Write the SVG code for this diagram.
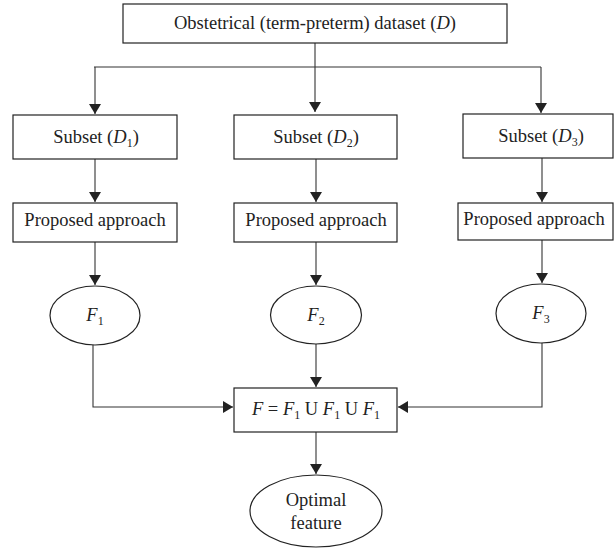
<svg xmlns="http://www.w3.org/2000/svg" width="614" height="548" viewBox="0 0 614 548">
<style>
.box{fill:#fff;stroke:#222;stroke-width:1.2}
.t{font-family:"Liberation Serif","Times New Roman",serif;font-size:18.5px;fill:#222;text-anchor:middle}
.i{font-style:italic}
.s{font-size:12px}
.c{fill:none;stroke:#333;stroke-width:1.1}
</style>
<defs>
<marker id="a" viewBox="0 0 10 12" refX="10" refY="6" markerWidth="10" markerHeight="12" markerUnits="userSpaceOnUse" orient="auto">
<path d="M0,0 L10,6 L0,12 Z" fill="#222"/>
</marker>
</defs>
<rect width="614" height="548" fill="#fff"/>
<g id="connectors">
<path class="c" d="M315,43 V112" marker-end="url(#a)"/>
<path class="c" d="M94,67 H541"/>
<path class="c" d="M95,67 V114" marker-end="url(#a)"/>
<path class="c" d="M541,67 V113" marker-end="url(#a)"/>
<path class="c" d="M95,159 V202" marker-end="url(#a)"/>
<path class="c" d="M316,159 V202" marker-end="url(#a)"/>
<path class="c" d="M542,158 V202" marker-end="url(#a)"/>
<path class="c" d="M95,242 V285" marker-end="url(#a)"/>
<path class="c" d="M316,242 V285" marker-end="url(#a)"/>
<path class="c" d="M542,240 V283" marker-end="url(#a)"/>
<path class="c" d="M93,345 V407 H233" marker-end="url(#a)"/>
<path class="c" d="M542,343 V407 H398" marker-end="url(#a)"/>
<path class="c" d="M316,344 V387" marker-end="url(#a)"/>
<path class="c" d="M316,432 V474" marker-end="url(#a)"/>
</g>
<g id="dataset">
<rect class="box" x="123" y="4" width="384" height="39"/>
<text class="t" x="315" y="29">Obstetrical (term-preterm) dataset (<tspan class="i">D</tspan>)</text>
</g>
<g id="subset1">
<rect class="box" x="13" y="115" width="164" height="44"/>
<text class="t" x="96" y="143">Subset (<tspan class="i">D</tspan><tspan class="s" dy="4">1</tspan><tspan dy="-4">)</tspan></text>
</g>
<g id="subset2">
<rect class="box" x="234" y="115" width="163" height="44"/>
<text class="t" x="316" y="143">Subset (<tspan class="i">D</tspan><tspan class="s" dy="4">2</tspan><tspan dy="-4">)</tspan></text>
</g>
<g id="subset3">
<rect class="box" x="463" y="114" width="150" height="44"/>
<text class="t" x="541" y="142">Subset (<tspan class="i">D</tspan><tspan class="s" dy="4">3</tspan><tspan dy="-4">)</tspan></text>
</g>
<g id="approach1">
<rect class="box" x="13" y="203" width="164" height="39"/>
<text class="t" x="95" y="226">Proposed approach</text>
</g>
<g id="approach2">
<rect class="box" x="234" y="203" width="163" height="39"/>
<text class="t" x="316" y="226">Proposed approach</text>
</g>
<g id="approach3">
<rect class="box" x="458" y="203" width="155" height="37"/>
<text class="t" x="534" y="225">Proposed approach</text>
</g>
<g id="F1">
<ellipse class="box" cx="95" cy="315.5" rx="45" ry="29.5"/>
<text class="t" x="95" y="321"><tspan class="i">F</tspan><tspan class="s" dy="4">1</tspan></text>
</g>
<g id="F2">
<ellipse class="box" cx="316" cy="315" rx="45.5" ry="29"/>
<text class="t" x="316" y="321"><tspan class="i">F</tspan><tspan class="s" dy="4">2</tspan></text>
</g>
<g id="F3">
<ellipse class="box" cx="541" cy="313.5" rx="45" ry="29.5"/>
<text class="t" x="541" y="319"><tspan class="i">F</tspan><tspan class="s" dy="4">3</tspan></text>
</g>
<g id="union">
<rect class="box" x="234" y="388" width="163" height="44"/>
<text class="t" x="316" y="415"><tspan class="i">F</tspan> = <tspan class="i">F</tspan><tspan class="s" dy="4">1</tspan><tspan dy="-4"> U </tspan><tspan class="i">F</tspan><tspan class="s" dy="4">1</tspan><tspan dy="-4"> U </tspan><tspan class="i">F</tspan><tspan class="s" dy="4">1</tspan></text>
</g>
<g id="optimal">
<ellipse class="box" cx="316" cy="511" rx="66" ry="36"/>
<text class="t" x="316" y="506">Optimal</text>
<text class="t" x="316" y="529">feature</text>
</g>
</svg>
